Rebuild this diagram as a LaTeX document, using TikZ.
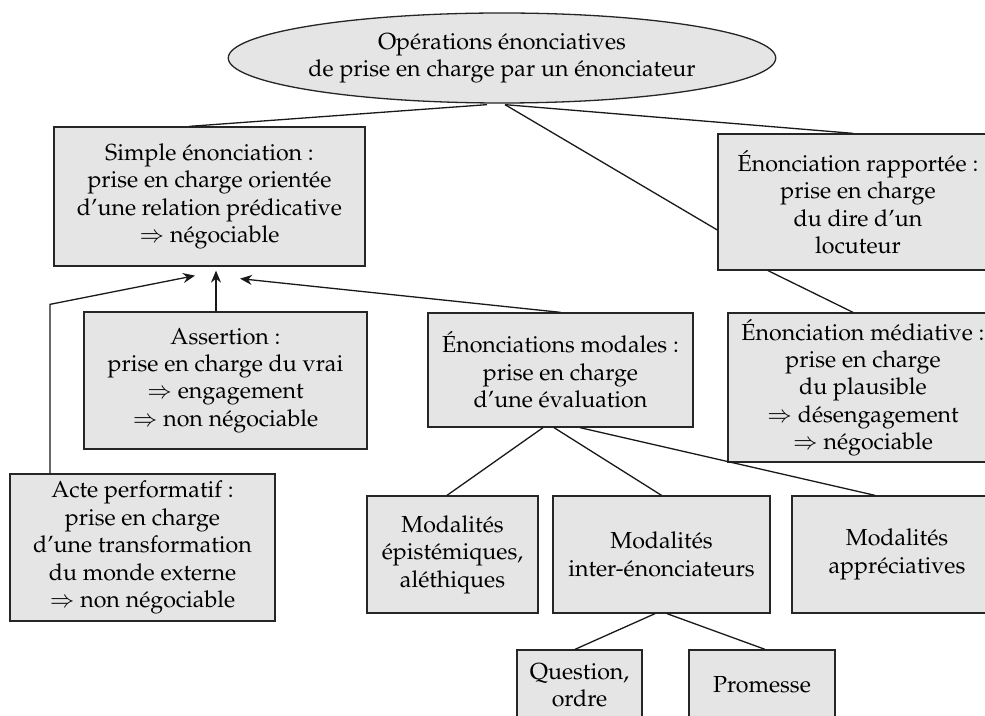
\documentclass[tikz,border=0pt]{standalone}
\usepackage[T1]{fontenc}
\usepackage{mathpazo}
\usetikzlibrary{shapes.geometric,arrows.meta,calc}
\begin{document}
\begin{tikzpicture}[x=0.5pt,y=-0.5pt,
  box/.style={draw=black!85,fill=black!10,line width=0.65pt,align=center,inner sep=0pt,
    font=\fontsize{11.6}{13.7}\selectfont},
  conn/.style={draw=black!90,line width=0.65pt},
  arr/.style={conn,-{Stealth[length=6pt,width=5pt]}}]
\clip (0,0) rectangle (985,716);
\fill[white] (0,0) rectangle (985,716);

\node[box,ellipse,minimum width=261.5pt,minimum height=45pt] (ell) at (502,58)
  {Opérations énonciatives\\de prise en charge par un énonciateur};

\node[box,minimum width=155.5pt,minimum height=69.5pt] (simple) at (209.5,196.5)
  {Simple énonciation :\\prise en charge orientée\\d'une relation prédicative\\$\Rightarrow$ négociable};
\node[box,minimum width=140pt,minimum height=68pt] (rapp) at (858,202)
  {Énonciation rapportée :\\prise en charge\\du dire d'un\\locuteur};
\node[box,minimum width=141.5pt,minimum height=68.5pt] (assert) at (225.5,380.5)
  {Assertion :\\prise en charge du vrai\\$\Rightarrow$ engagement\\$\Rightarrow$ non négociable};
\node[box,minimum width=132.5pt,minimum height=73.5pt] (acte) at (142.5,547.5)
  {Acte performatif :\\prise en charge\\d'une transformation\\du monde externe\\$\Rightarrow$ non négociable};
\node[box,minimum width=132.5pt,minimum height=57pt] (modales) at (560.5,370)
  {Énonciations modales :\\prise en charge\\d'une évaluation};
\node[box,minimum width=135pt,minimum height=74.5pt] (med) at (863,387.5)
  {Énonciation médiative :\\prise en charge\\du plausible\\$\Rightarrow$ désengagement\\$\Rightarrow$ négociable};
\node[box,minimum width=85.5pt,minimum height=58.5pt] (epist) at (452.5,554.5)
  {Modalités\\épistémiques,\\aléthiques};
\node[box,minimum width=108.5pt,minimum height=58.5pt] (inter) at (661.5,554.5)
  {Modalités\\inter-énonciateurs};
\node[box,minimum width=105pt,minimum height=58.5pt] (appr) at (897,554.5)
  {Modalités\\appréciatives};
\node[box,minimum width=62.5pt,minimum height=35pt] (quest) at (579.5,685)
  {Question,\\ordre};
\node[box,minimum width=73pt,minimum height=35pt] (prom) at (762,685)
  {Promesse};

% tree connectors
\draw[conn] ($(ell.south)+(-15,1)$) -- ($(simple.north)+(-20,0)$);
\draw[conn] ($(ell.south)+(3,1)$) -- ($(rapp.west)+(0,28)$);
\draw[conn] ($(ell.south)+(3,1)$) -- ($(rapp.north)+(-5,0)$);
\draw[conn] ($(rapp.south)+(-90,0)$) -- ($(med.north)+(-10,0)$);

% arrows to simple
\coordinate (t1) at ($(simple.south)+(-14.5,9)$);
\coordinate (t2) at ($(simple.south)+(6.5,4)$);
\coordinate (t3) at ($(simple.south)+(30.5,12)$);
\draw[arr] ($(acte.north)+(-92.5,0)$) -- ++(0,-169) -- (t1);
\draw[arr] ($(assert.north)+(-9.5,0)$) -- (t2);
\draw[arr] (modales.north) -- (t3);

% modal subtypes
\draw[conn] ($(modales.south)+(-17.5,0)$) -- ($(epist.north)+(-5.5,0)$);
\draw[conn] ($(modales.south)+(-6.5,0)$) -- (inter.north);
\draw[conn] ($(modales.south)+(19.5,0)$) -- ($(appr.north)+(-22,0)$);
\draw[conn] ($(inter.south)+(-6.5,0)$) -- ($(quest.north)+(-4.5,0)$);
\draw[conn] ($(inter.south)+(5.5,0)$) -- ($(prom.north)+(3,0)$);
\end{tikzpicture}
\end{document}
